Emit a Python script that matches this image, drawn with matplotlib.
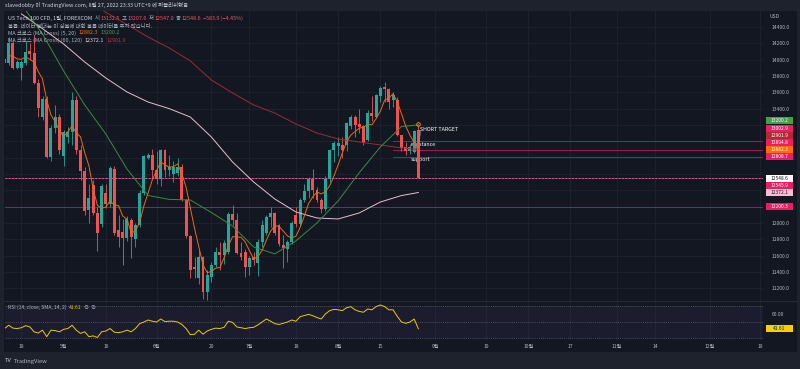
import numpy as np
import pandas as pd
import matplotlib
matplotlib.use("Agg")
import matplotlib.pyplot as plt
from matplotlib.patches import Rectangle
from matplotlib.transforms import IdentityTransform

plt.rcParams["font.family"] = ["Noto Sans CJK KR", "DejaVu Sans"]

# US Tech 100 CFD, daily bars from 2022-04-12 (every weekday)
first_day = "2022-04-12"
opens = [14010, 13955, 14208, 13900, 13900, 13960, 14100, 14080, 13718, 13294,
         13518, 12811, 13159, 13301, 12820, 13050, 13118, 13510, 12893, 12640,
         12160, 12460, 12118, 11990, 12368, 12233, 12660, 11913, 11893, 11812,
         12036, 11800, 11975, 12368, 12800, 12830, 12648, 12534, 12893, 12648,
         12600, 12610, 12690, 12281, 11840, 11464, 11322, 11579, 11158, 11342,
         11485, 11647, 11607, 11640, 12106, 12036, 11636, 11647, 11464, 11579,
         11505, 11770, 11873, 12077, 12118, 11975, 11730, 11677, 11770, 12097,
         11987, 12281, 12391, 12534, 12403, 12281, 12167, 12534, 12893, 12942,
         12955, 12955, 13187, 13301, 13210, 13187, 13016, 13351, 13301, 13555,
         13660, 13637, 13506, 13506, 13077, 12934, 12880, 12873, 13132.5]
highs = [14060, 14280, 14240, 13990, 14000, 14230, 14200, 14300, 13760, 13560,
         13560, 13200, 13450, 13330, 13140, 13180, 13600, 13560, 12960, 12680,
         12480, 12530, 12200, 12480, 12480, 12700, 12700, 12100, 12050, 12080,
         12060, 12000, 12400, 12830, 12860, 12900, 12880, 12900, 12910, 12830,
         12760, 12790, 12720, 12290, 11850, 11580, 11680, 11600, 11420, 11520,
         11700, 11760, 11790, 12130, 12220, 12120, 11760, 11680, 11600, 11640,
         11800, 12030, 12100, 12200, 12130, 11990, 11850, 11790, 12020, 12200,
         12300, 12480, 12560, 12660, 12440, 12300, 12580, 12900, 13000, 13050,
         13050, 13240, 13320, 13320, 13400, 13200, 13380, 13560, 13580, 13680,
         13730, 13650, 13600, 13540, 13080, 12990, 12970, 13140, 13207.6]
lows = [13900, 13930, 13880, 13880, 13750, 13940, 14000, 13700, 13300, 13260,
        12790, 12760, 13100, 12850, 12700, 12980, 12950, 12850, 12520, 12100,
        12000, 12100, 11660, 11950, 12180, 12200, 11850, 11700, 11485, 11780,
        11567, 11700, 11950, 12340, 12780, 12550, 12480, 12450, 12560, 12580,
        12500, 12580, 12270, 11820, 11320, 11320, 11250, 11070, 11060, 11280,
        11460, 11420, 11500, 11620, 11980, 11620, 11540, 11340, 11360, 11490,
        11350, 11700, 11850, 11950, 11850, 11720, 11444, 11520, 11740, 11950,
        11960, 12250, 12300, 12300, 12250, 12120, 12150, 12500, 12750, 12820,
        12800, 12880, 13150, 13050, 13100, 12950, 13000, 13250, 13280, 13480,
        13485, 13400, 13420, 13060, 12880, 12836, 12840, 12860, 12547.0]
closes = [13960, 14208, 13900, 13975, 13975, 14098, 14075, 13718, 13404, 13518,
          12811, 13159, 13301, 12893, 13110, 13118, 13510, 12893, 12640, 12140,
          12300, 12118, 11873, 12450, 12233, 12673, 11873, 11831, 11812, 12046,
          11830, 11975, 12368, 12820, 12830, 12648, 12534, 12893, 12648, 12689,
          12690, 12690, 12281, 11840, 11423, 11432, 11579, 11158, 11362, 11485,
          11647, 11607, 11757, 12106, 12036, 11636, 11586, 11464, 11567, 11540,
          11770, 11975, 12077, 12126, 11873, 11740, 11690, 11770, 11996, 11987,
          12281, 12391, 12534, 12403, 12281, 12167, 12534, 12893, 12983, 12980,
          12893, 13220, 13301, 13200, 13180, 12975, 13351, 13310, 13567, 13649,
          13640, 13485, 13567, 13077, 12914, 12880, 12934, 13126, 12548.6]

# MA Cross (5, 20): short line read per day from 2022-04-13
sma5_start = "2022-04-13"
sma5 = [14050, 14040, 14010, 14004, 14031, 14005, 13968, 13854, 13763, 13505,
        13322, 13239, 13136, 13055, 13116, 13186, 13105, 13054, 12860, 12697,
        12418, 12214, 12176, 12195, 12269, 12220, 12212, 12084, 12047, 11878,
        11899, 12006, 12208, 12365, 12528, 12640, 12745, 12711, 12682, 12691,
        12722, 12600, 12438, 12185, 11933, 11711, 11486, 11391, 11403, 11446,
        11452, 11572, 11720, 11831, 11828, 11824, 11766, 11658, 11559, 11585,
        11663, 11786, 11898, 11964, 11958, 11901, 11840, 11814, 11837, 11945,
        12085, 12238, 12319, 12378, 12355, 12384, 12456, 12572, 12711, 12857,
        12994, 13075, 13119, 13159, 13175, 13201, 13203, 13277, 13370, 13503,
        13530, 13582, 13484, 13337, 13185, 13074, 12986, 12882.3]

# slower averages read at weekly points
ma_dates = ["2022-04-18", "2022-04-25", "2022-05-02", "2022-05-09", "2022-05-16",
            "2022-05-23", "2022-05-30", "2022-06-06", "2022-06-13", "2022-06-20",
            "2022-06-27", "2022-07-04", "2022-07-11", "2022-07-18", "2022-07-25",
            "2022-08-01", "2022-08-08", "2022-08-15", "2022-08-22", "2022-08-26"]
sma20 = [14680, 14314, 13861, 13445, 13089, 12660, 12336, 12288, 12281, 12127,
         11962, 11705, 11620, 11779, 12000, 12269, 12615, 12930, 13181, 13200.2]
sma60 = [14560, 14380, 14192, 13971, 13775, 13604, 13481, 13400, 13297, 13052,
         12746, 12501, 12293, 12134, 12060, 12048, 12122, 12256, 12335, 12372.1]
sma120_dates = ma_dates[3:]
sma120 = [14730, 14580, 14430, 14277, 14143, 13984, 13750, 13592, 13445, 13346,
          13212, 13101, 13028, 12991, 12955, 12918, 12901.9]

# RSI (14) per day from 2022-04-12
rsi = [42, 46, 42.5, 42, 43, 45.5, 44, 38, 36.5, 40, 32, 40, 39.5, 38,
       41, 42, 46, 40, 36, 38, 32, 33, 31, 38, 39, 42, 37.5, 37, 38, 40,
       38, 42, 48, 50, 52.5, 51, 50, 53.7, 50.5, 51, 51, 50, 47, 42,
       34.5, 35, 40, 35, 39, 41, 42.5, 42, 43.5, 51, 49.6, 44, 43, 42, 43,
       43.5, 46.5, 50, 53.7, 51, 48, 47, 48.4, 50, 52.5, 51, 56.5, 58, 59.4,
       57.7, 55.5, 53.7, 60, 64, 65.5, 65, 64, 67.5, 68.8, 65, 63, 62, 66,
       65, 69, 70.9, 69, 65, 65, 57, 50, 48.4, 50, 53.7, 41.61]

# horizontal drawings
short_lines = [13002.9, 12894.8, 12808.7]
short_lines_from = "2022-08-18"
long_lines = [12545.9, 12200.3]

tick_dates = ["2022-04-18", "2022-05-02", "2022-05-16", "2022-06-01", "2022-06-20",
              "2022-07-01", "2022-07-18", "2022-08-01", "2022-08-15", "2022-09-01",
              "2022-09-19", "2022-10-03", "2022-10-17", "2022-11-01", "2022-11-14",
              "2022-12-01", "2022-12-19"]
tick_labels = ["18", "5월", "16", "6월", "20", "7월", "18", "8월", "15", "9월",
               "19", "10월", "17", "11월", "14", "12월", "19"]
price_ticks = list(range(11200, 14401, 200))

all_days = pd.bdate_range(first_day, "2022-12-30")


def xpos(dates):
    return all_days.get_indexer(pd.to_datetime(dates))


W, H = 800, 369
BG = "#131722"
GRID = "#1e222d"
TXT = "#b2b5be"
UP, DOWN = "#26a69a", "#ef5350"

fig = plt.figure(figsize=(W / 100, H / 100), dpi=100, facecolor="#1e222d")
fig.add_artist(Rectangle((4 / W, 1 - 352 / H), 793 / W, 341 / H,
                         transform=fig.transFigure, fc=BG, ec="none", zorder=0))

ax = fig.add_axes([5 / W, 1 - 301 / H, 758 / W, 290 / H])
rax = fig.add_axes([5 / W, 1 - 341 / H, 758 / W, 40 / H])
for a in (ax, rax):
    a.set_facecolor(BG)
    a.set_xlim(0.12, 179.6)
    for s in a.spines.values():
        s.set_visible(False)
    a.set_xticks(xpos(tick_dates))
    a.grid(True, axis="x", color=GRID, lw=0.6)
    a.set_axisbelow(True)
ax.set_ylim(11043, 14596)
rax.set_ylim(26.7, 75.8)

pos = np.arange(len(opens))
o, h, l, c = map(np.array, (opens, highs, lows, closes))
cols = np.where(c >= o, UP, DOWN)
ax.vlines(pos, l, h, colors=cols, lw=0.6, zorder=3)
body = np.maximum(np.abs(c - o), 12)
ax.bar(pos, body, bottom=np.minimum(o, c), width=0.7, color=cols, lw=0, zorder=3)

ax.plot(xpos(ma_dates), sma60, color="#e8bfcf", lw=0.7, zorder=4)
ax.plot(xpos(sma120_dates), sma120, color="#9c2a35", lw=0.7, zorder=4)
ax.plot(xpos(ma_dates), sma20, color="#3d8b40", lw=0.7, zorder=4)
s5 = xpos([sma5_start])[0] + np.arange(len(sma5))
ax.plot(s5, sma5, color="#e86c12", lw=0.7, zorder=4)

right = ax.get_xlim()[1]
x0 = xpos([short_lines_from])[0]
for v in short_lines:
    ax.plot([x0, right], [v, v], color="#a3185a", lw=0.7, zorder=2)
for v in long_lines:
    ax.axhline(v, color="#a3185a", lw=0.7, zorder=2)
ax.axhline(closes[-1], color="#9598a1", lw=0.6, ls=(0, (2, 2)), zorder=2)

# text drawings on the last days
last = pos[-1]
ax.plot(last, highs[-1], "o", mfc="none", mec="#ff9800", ms=2.6, mew=0.6, zorder=6)
ax.plot([last + 0.1, last + 0.6], [12980, 13130], color="#9598a1", lw=0.4, zorder=6)
ax.text(last + 0.3, 13150, "SHORT TARGET", color="white", fontsize=3.8,
        va="center", ha="left", zorder=6)
ax.text(last - 1.9, 12960, "resistance", color="white", fontsize=3.8,
        va="center", ha="left", zorder=2)
ax.text(last - 1.8, 12775, "support", color="white", fontsize=3.8,
        va="center", ha="left", zorder=2)

# RSI pane
rax.axhspan(30, 70, color="#7e57c2", alpha=0.08, lw=0)
for v in (70, 50, 30):
    rax.axhline(v, color="#5d606b", lw=0.5, ls=(0, (1.5, 1.5)))
rax.plot(pos, rsi, color="#f0c808", lw=0.7)
rax.yaxis.tick_right()
rax.set_yticks([60])
rax.set_yticklabels(["60.00"])
rax.tick_params(axis="y", length=0, pad=6.5, labelsize=3.6, labelcolor=TXT)
rax.set_xticklabels(tick_labels)
rax.tick_params(axis="x", length=0, pad=1.8, labelsize=3.6, labelcolor=TXT)

# pane separator
fig.add_artist(plt.Line2D([4 / W, 797 / W], [1 - 301 / H] * 2,
                          transform=fig.transFigure, color="#2a2e39", lw=0.6))

ident = IdentityTransform()


def tag(yimg, text, bg, fg):
    fig.add_artist(Rectangle((766, H - yimg - 3.5), 27, 7, transform=ident,
                             fc=bg, ec="none", zorder=10))
    fig.text(779.5, H - yimg, text, transform=ident, color=fg, fontsize=3.5,
             ha="center", va="center", zorder=11)


def img_y(axis, v):
    return H - axis.transData.transform((0, v))[1]


# price-scale labels, pushed apart like the chart does
cur_y = img_y(ax, closes[-1])
tags = [(sma20[-1], "#43a047", "white"), (short_lines[0], "#e91e63", "white"),
        (sma120[-1], "#b22833", "white"), (short_lines[1], "#e91e63", "white"),
        (sma5[-1], "#ff6d00", "white"), (short_lines[2], "#e91e63", "white"),
        (long_lines[0], "#e91e63", "white"), (sma60[-1], "#f8bbd0", "#131722"),
        (long_lines[1], "#e91e63", "white")]
placed = [(cur_y, f"{closes[-1]:.1f}", "white", "#131722")]
above = sorted([t for t in tags if t[0] > closes[-1]], key=lambda t: t[0])
below = sorted([t for t in tags if t[0] <= closes[-1]], key=lambda t: -t[0])
prev = cur_y
for v, bg, fg in above:
    prev = min(img_y(ax, v), prev - 7.2)
    placed.append((prev, f"{v:.1f}", bg, fg))
prev = cur_y
for v, bg, fg in below:
    prev = max(img_y(ax, v), prev + 7.2)
    placed.append((prev, f"{v:.1f}", bg, fg))
for args in placed:
    tag(*args)
tag(img_y(rax, rsi[-1]), f"{rsi[-1]:.2f}", "#f5d000", "#131722")

# the scale hides its own numbers under those labels
tag_ys = [p[0] for p in placed]
ax.yaxis.tick_right()
ax.set_yticks(price_ticks)
ax.set_yticklabels([
    "" if min(abs(img_y(ax, v) - y) for y in tag_ys) < 7.5 else f"{v:.1f}"
    for v in price_ticks])
ax.tick_params(axis="y", length=0, pad=6.5, labelsize=3.6, labelcolor=TXT)
ax.tick_params(axis="x", length=0, labelbottom=False)
ax.grid(True, axis="y", color=GRID, lw=0.6)

fig.text(770 / W, 1 - 17 / H, "USD", color=TXT, fontsize=3.6, va="center")

renderer = fig.canvas.get_renderer()


def row(x, y, parts, size=3.9):
    for s, col, gap in parts:
        t = fig.text(x / W, 1 - y / H, s, color=col, fontsize=size, va="center")
        x += t.get_window_extent(renderer).width + gap


RED = "#f7525f"
row(5, 5.3, [("slavedobby 이 TradingView.com, 8월 27, 2022 23:33 UTC+9 에 퍼블리쉬했음", "#d1d4dc", 0)])
row(8, 18, [("US Tech 100 CFD, 1일, FOREXCOM", "#d1d4dc", 3), ("시", TXT, 0.5),
            (f"{opens[-1]:.1f}", RED, 2), ("고", TXT, 0.5), (f"{highs[-1]:.1f}", RED, 2),
            ("저", TXT, 0.5), (f"{lows[-1]:.1f}", RED, 2), ("종", TXT, 0.5),
            (f"{closes[-1]:.1f}", RED, 2),
            (f"\u2212{opens[-1] - closes[-1]:.1f} (\u22124.45%)", RED, 0)])
row(8, 25.5, [("볼륨: 데이터 벤더는 이 심볼에 대한 볼륨 데이터를 주지 않습니다.", TXT, 0)])
row(8, 33, [("MA 크로스 (MA Cross) (5, 20)", TXT, 3), (f"{sma5[-1]:.1f}", "#ff6d00", 2.5),
            (f"{sma20[-1]:.1f}", "#43a047", 0)])
row(8, 40.5, [("MA 크로스 (MA Cross) (60, 120)", TXT, 3), (f"{sma60[-1]:.1f}", "#e8d3db", 2.5),
              (f"{sma120[-1]:.1f}", "#c62e3a", 0)])
row(8, 307.5, [("RSI (14, close, SMA, 14, 2)", TXT, 2.5), (f"{rsi[-1]:.2f}", "#f0c808", 2),
               ("\u2205", TXT, 2), ("\u2205", TXT, 0)], size=3.6)
row(5, 361, [("TV", "#d1d4dc", 1.5), ("TradingView", "#b2b5be", 0)], size=4.2)

fig.savefig("out.png", dpi=100, facecolor=fig.get_facecolor())
